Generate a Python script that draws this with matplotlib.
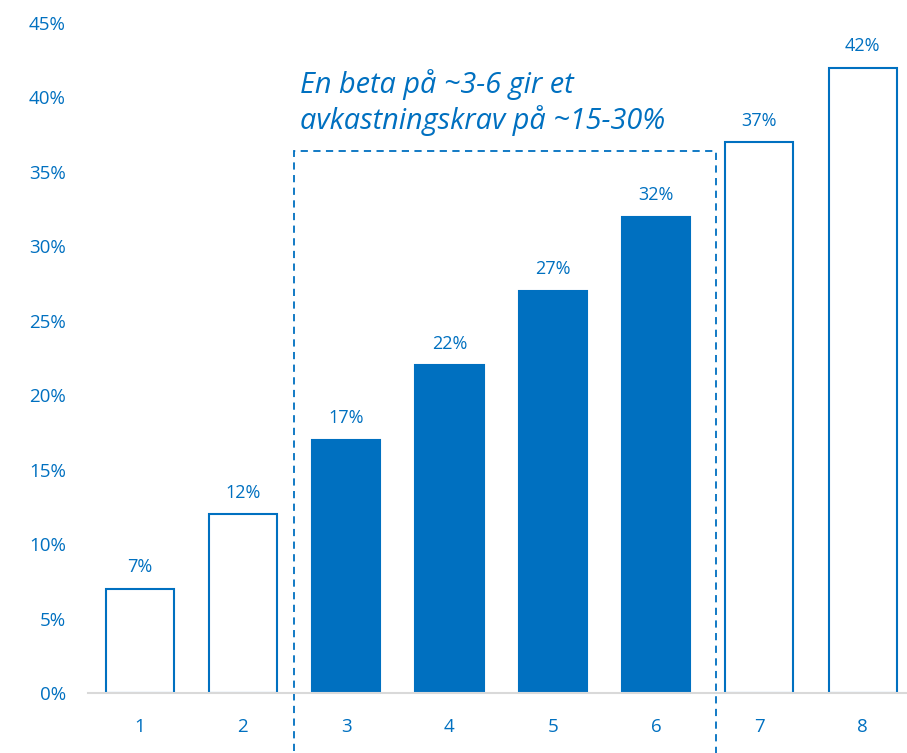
import matplotlib.pyplot as plt
from matplotlib.patches import Rectangle

categories = ["1", "2", "3", "4", "5", "6", "7", "8"]
values = [7, 12, 17, 22, 27, 32, 37, 42]
highlight = [False, False, True, True, True, True, False, False]
note = "En beta på ~3-6 gir et\navkastningskrav på ~15-30%"

BLUE = "#0070C0"
plt.rcParams["font.family"] = ["Open Sans", "DejaVu Sans"]

fig = plt.figure(figsize=(9.07, 7.53), dpi=100)
ax = fig.add_axes([0.097, 0.0797, 0.903, 0.8898])

x = list(range(1, len(categories) + 1))
for xi, v, h in zip(x, values, highlight):
    ax.bar(xi, v, width=0.66, color=BLUE if h else "white",
           edgecolor=BLUE, linewidth=1.5, zorder=2)
    ax.annotate(f"{v}%", (xi, v), xytext=(0, 9), textcoords="offset points",
                ha="center", va="bottom", color=BLUE, fontsize=13)

ax.set_xlim(0.5, 8.43)
ax.set_ylim(0, 45)
ax.set_xticks(x)
ax.set_xticklabels(categories)
ax.set_yticks(range(0, 46, 5))
ax.set_yticklabels([f"{t}%" for t in range(0, 46, 5)])
ax.tick_params(colors=BLUE, labelsize=13.5, length=0)
ax.tick_params(axis="x", pad=18)
ax.tick_params(axis="y", pad=16)
for s in ["top", "right", "left"]:
    ax.spines[s].set_visible(False)
ax.spines["bottom"].set_color("#D9D9D9")
ax.spines["bottom"].set_linewidth(1.5)
ax.spines["bottom"].set_zorder(3)

# dashed box around the highlighted range, running off the bottom
box = Rectangle((2.49, -5), 4.095, 41.4, fill=False, edgecolor=BLUE,
                linestyle=(0, (4, 3)), linewidth=1.3, clip_on=False, zorder=1)
ax.add_patch(box)

ax.text(2.55, 37.4, note, color=BLUE, fontsize=20.8, style="italic",
        ha="left", va="bottom", linespacing=1.22)

plt.savefig("out.png", dpi=100)
plt.close()
